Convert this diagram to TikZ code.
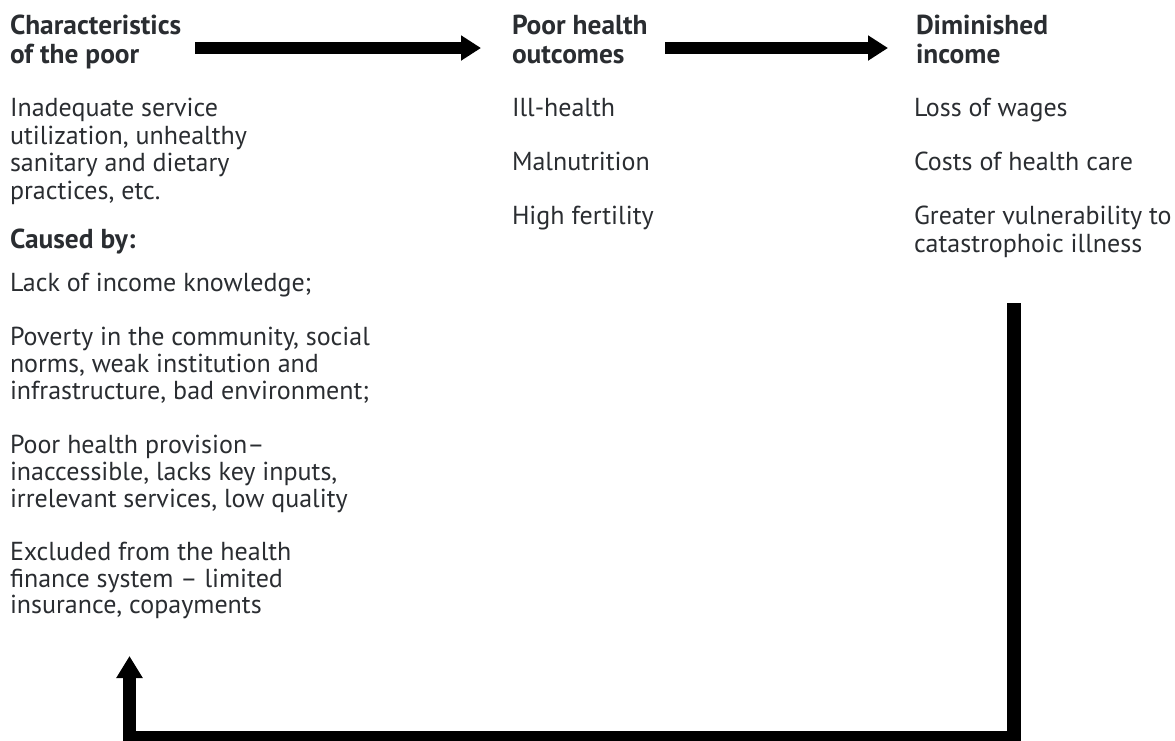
\documentclass[tikz,border=0pt]{standalone}
\usepackage{fontspec}
\setmainfont{PT Sans}
\usetikzlibrary{arrows.meta}
\definecolor{txt}{HTML}{2A2D31}
\begin{document}
\begin{tikzpicture}[x=1pt,y=-1pt,
  every node/.style={inner sep=0pt, outer sep=0pt, anchor=base west, text=txt,
    font=\fontsize{26}{27.7}\selectfont},
  head/.style={font=\fontsize{27.4}{29}\selectfont\bfseries},
  flowarrow/.style={draw=black, line width=12pt, -{Triangle[length=20pt,width=24pt]}},
  looparrow/.style={draw=black, line width=13.5pt, line join=miter, -{Triangle[length=22pt,width=25pt]}}]
\useasboundingbox (0,0) rectangle (1175,740);
% left column
\node[head] (h1a) at (10,34) {Characteristics};
\node[head] (h1b) at (10,63) {of the poor};
\node (l1) at (10,116) {Inadequate service};
\node (l2) at (10,144) {utilization, unhealthy};
\node (l3) at (10,171.7) {sanitary and dietary};
\node (l4) at (10,199) {practices, etc.};
\node[head] (l5) at (10,248) {Caused by:};
\node (l6) at (10,291.7) {Lack of income knowledge;};
\node (l7) at (10,345) {Poverty in the community, social};
\node (l8) at (10,372) {norms, weak institution and};
\node (l9) at (10,399) {infrastructure, bad environment;};
\node (l10) at (10,453) {Poor health provision–};
\node (l11) at (10,480) {inaccessible, lacks key inputs,};
\node (l12) at (10,507) {irrelevant services, low quality};
\node (l13) at (10,560) {Excluded from the health};
\node (l14) at (10,587) {finance system – limited};
\node (l15) at (10,613) {insurance, copayments};
% middle column
\node[head] (h2a) at (512,34) {Poor health};
\node[head] (h2b) at (512,63) {outcomes};
\node (m1) at (512,116) {Ill-health};
\node (m2) at (512,170) {Malnutrition};
\node (m3) at (512,224) {High fertility};
% right column
\node[head] (h3a) at (916,34) {Diminished};
\node[head] (h3b) at (916,63) {income};
\node (r1) at (914,116) {Loss of wages};
\node (r2) at (914,170) {Costs of health care};
\node (r3) at (914,224) {Greater vulnerability to};
\node (r4) at (914,252) {catastrophoic illness};
% arrows
\draw[flowarrow] ([shift={(185,14)}]h1a.base west) -- ([shift={(-31,14)}]h2a.base west);
\draw[flowarrow] ([shift={(153,14)}]h2a.base west) -- ([shift={(-28,14)}]h3a.base west);
\draw[looparrow] ([shift={(100,51)}]r4.base west) -- ++(0,434.5) -| ([shift={(119.5,43)}]l15.base west);
\end{tikzpicture}
\end{document}
